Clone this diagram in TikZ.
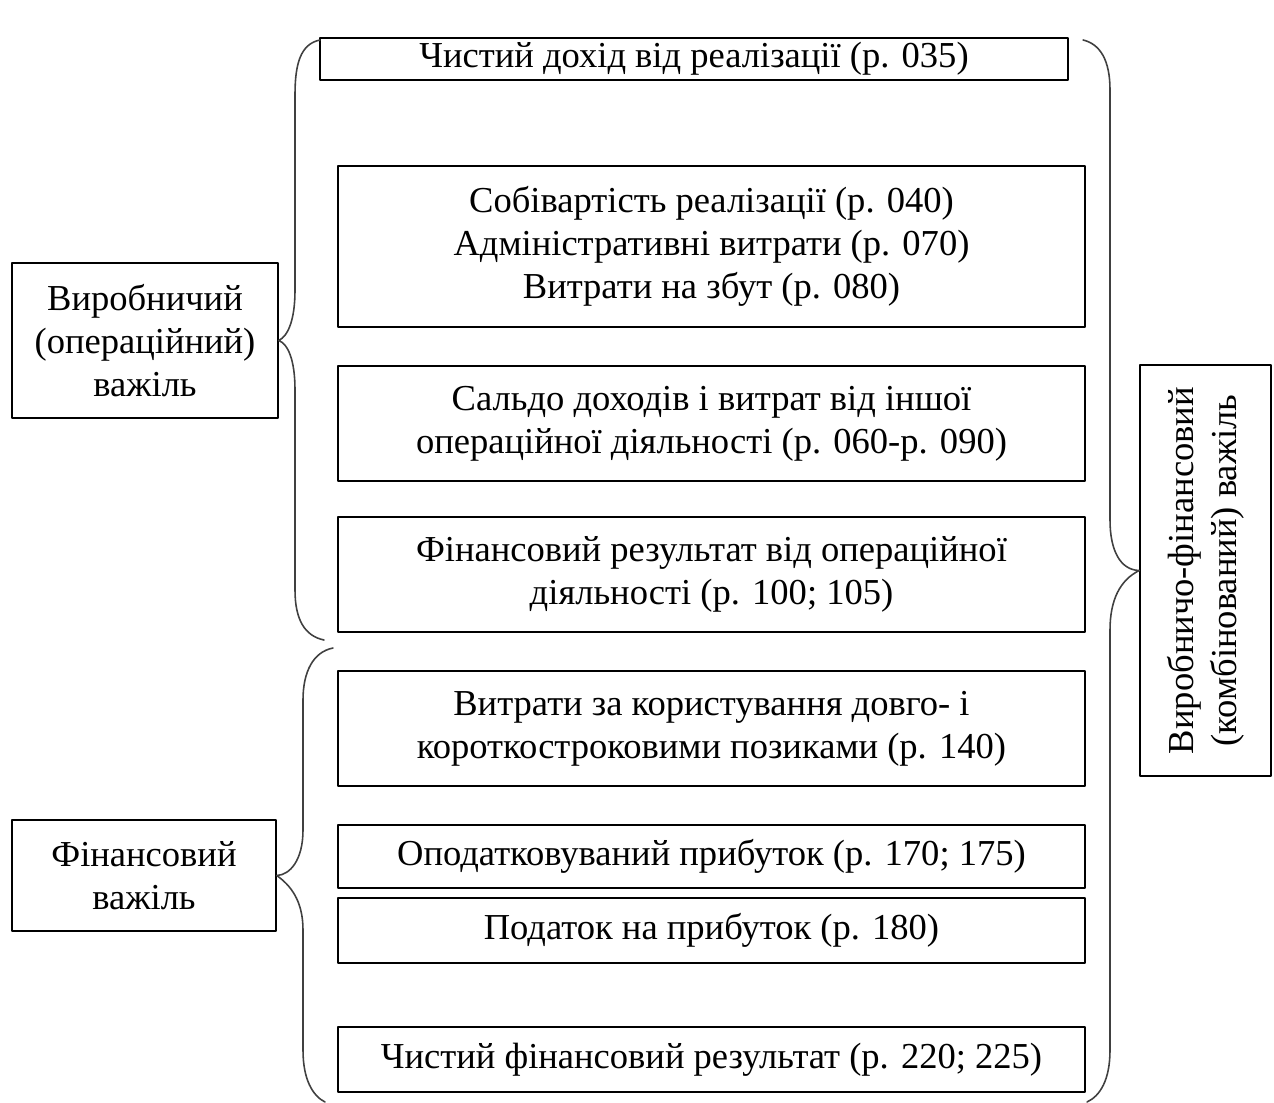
\documentclass[tikz,border=0pt]{standalone}
\usepackage{fontspec}
\setmainfont{Liberation Serif}
\tikzset{
  rowbox/.style={draw, line width=0.9pt, align=center, inner sep=0pt, minimum width=14.94cm},
  sidebox/.style={draw, line width=0.9pt, align=center, inner sep=0pt},
  brace/.style={draw=black!75, line width=0.9pt}
}
\begin{document}
\begin{tikzpicture}[x=0.02cm, y=-0.02cm, font=\fontsize{20.8}{24.6}\selectfont, line join=round, line cap=round]
	\useasboundingbox (0,0) rectangle (1274,1102);
	% rows
	\node[rowbox, minimum width=14.96cm, minimum height=0.84cm] (dokhid) at (694,59) {Чистий дохід від реалізації (р. 035)};
	\node[rowbox, minimum height=3.22cm] (sobiv) at (711.5,246.5) {Собівартість реалізації (р. 040)\\Адміністративні витрати (р. 070)\\Витрати на збут (р. 080)};
	\node[rowbox, minimum height=2.30cm] (saldo) at (711.5,423.5) {Сальдо доходів і витрат від іншої\\операційної діяльності (р. 060-р. 090)};
	\node[rowbox, minimum height=2.30cm] (oper) at (711.5,574.5) {Фінансовий результат від операційної\\діяльності (р. 100; 105)};
	\node[rowbox, minimum height=2.30cm] (pozyky) at (711.5,728.5) {Витрати за користування довго- і\\короткостроковими позиками (р. 140)};
	\node[rowbox, minimum height=1.26cm] (opod) at (711.5,856.5) {Оподатковуваний прибуток (р. 170; 175)};
	\node[rowbox, minimum height=1.30cm] (podatok) at (711.5,930.5) {Податок на прибуток (р. 180)};
	\node[rowbox, minimum height=1.30cm] (chystyi) at (711.5,1059.5) {Чистий фінансовий результат (р. 220; 225)};
	% levers
	\node[sidebox, minimum width=5.32cm, minimum height=3.10cm] (vyrob) at (145,340.5) {Виробничий\\(операційний)\\важіль};
	\node[sidebox, minimum width=5.28cm, minimum height=2.22cm] (finans) at (144,875.5) {Фінансовий\\важіль};
	\node[sidebox, rotate=90, minimum width=8.22cm, minimum height=2.62cm] (kombin) at (1205.5,570.5) {Виробничо-фінансовий\\(комбінований) важіль};
	% braces
	\draw[brace] (320,40) .. controls (300,44) and (295,65) .. (295,95) -- (295,290)
		.. controls (295,320) and (288,336) .. (vyrob.east)
		.. controls (288,344) and (295,360) .. (295,390) -- (295,590)
		.. controls (295,620) and (305,636) .. (324,640);
	\draw[brace] (333,648) .. controls (313,652) and (303,672) .. (303,700) -- (303,830)
		.. controls (303,860) and (290,875) .. (finans.east)
		.. controls (290,885) and (303,900) .. (303,930) -- (303,1050)
		.. controls (303,1080) and (313,1096) .. (325,1102);
	\draw[brace] (1083,40) .. controls (1100,44) and (1110,60) .. (1110,90) -- (1110,520)
		.. controls (1110,550) and (1120,570) .. (kombin.north)
		.. controls (1120,580) and (1110,600) .. (1110,630) -- (1110,1050)
		.. controls (1110,1080) and (1100,1096) .. (1087,1102);
\end{tikzpicture}
\end{document}
